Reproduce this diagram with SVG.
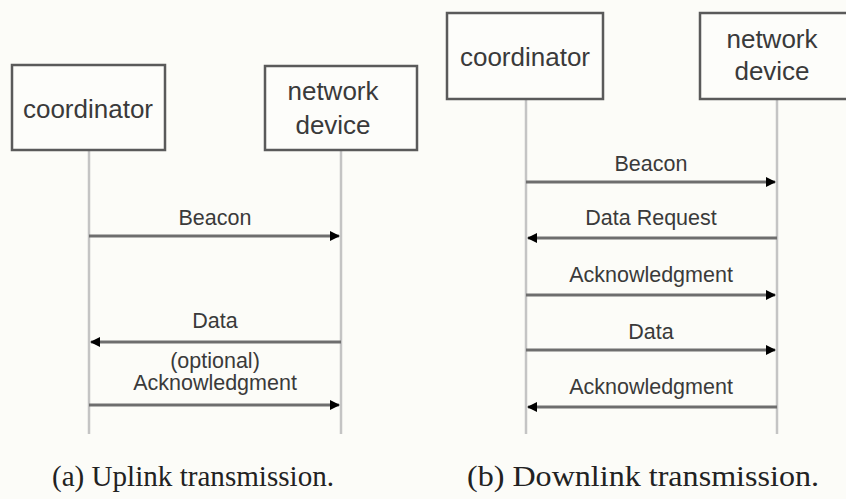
<svg xmlns="http://www.w3.org/2000/svg" width="846" height="499" viewBox="0 0 846 499">
<style>
.box{fill:#fdfdfa;stroke:#5a5a5a;stroke-width:2.5}
.life{stroke:#c4c4c4;stroke-width:2.5;fill:none}
.msg{stroke:#6e6e6e;stroke-width:3;fill:none}
.bt{font-family:"Liberation Sans",Arial,sans-serif;font-size:26px;fill:#3a3a3a;text-anchor:middle}
.mt{font-family:"Liberation Sans",Arial,sans-serif;font-size:21.5px;fill:#3a3a3a;text-anchor:middle}
.cap{font-family:"Liberation Serif","Times New Roman",serif;font-size:29px;fill:#222}
</style>
<defs>
<marker id="ah" markerWidth="10" markerHeight="10" refX="9" refY="5" orient="auto" markerUnits="userSpaceOnUse">
<path d="M0,0 L10,5 L0,10 Z" fill="#000"/>
</marker>
</defs>
<rect width="846" height="499" fill="#fcfcf8"/>
<g id="connectors">
<line class="life" x1="89" y1="150" x2="89" y2="434"/>
<line class="life" x1="341" y1="150" x2="341" y2="434"/>
<line class="life" x1="526" y1="99" x2="526" y2="434"/>
<line class="life" x1="777" y1="99" x2="777" y2="434"/>
<line class="msg" x1="89" y1="236" x2="339" y2="236" marker-end="url(#ah)"/>
<line class="msg" x1="341" y1="342" x2="91" y2="342" marker-end="url(#ah)"/>
<line class="msg" x1="89" y1="405" x2="339" y2="405" marker-end="url(#ah)"/>
<line class="msg" x1="526" y1="182" x2="775" y2="182" marker-end="url(#ah)"/>
<line class="msg" x1="777" y1="238" x2="528" y2="238" marker-end="url(#ah)"/>
<line class="msg" x1="526" y1="295" x2="775" y2="295" marker-end="url(#ah)"/>
<line class="msg" x1="526" y1="350" x2="775" y2="350" marker-end="url(#ah)"/>
<line class="msg" x1="777" y1="407" x2="528" y2="407" marker-end="url(#ah)"/>
</g>
<g id="labels">
<text class="mt" x="215" y="225">Beacon</text>
<text class="mt" x="215" y="328">Data</text>
<text class="mt" x="215" y="368">(optional)</text>
<text class="mt" x="215" y="390">Acknowledgment</text>
<text class="mt" x="651" y="171">Beacon</text>
<text class="mt" x="651" y="225">Data Request</text>
<text class="mt" x="651" y="282">Acknowledgment</text>
<text class="mt" x="651" y="339">Data</text>
<text class="mt" x="651" y="394">Acknowledgment</text>
</g>
<g id="a-coordinator">
<rect class="box" x="12" y="65" width="153" height="85"/>
<text class="bt" x="88" y="118">coordinator</text>
</g>
<g id="a-network-device">
<rect class="box" x="265" y="66" width="152" height="84"/>
<text class="bt" x="333" y="100">network</text>
<text class="bt" x="333" y="134">device</text>
</g>
<g id="b-coordinator">
<rect class="box" x="447" y="13" width="156" height="86"/>
<text class="bt" x="525" y="66">coordinator</text>
</g>
<g id="b-network-device">
<rect class="box" x="700" y="13" width="160" height="86"/>
<text class="bt" x="772" y="48">network</text>
<text class="bt" x="772" y="80">device</text>
</g>
<g id="captions">
<text class="cap" x="52" y="486" textLength="282" lengthAdjust="spacingAndGlyphs">(a) Uplink transmission.</text>
<text class="cap" x="467" y="486" textLength="352" lengthAdjust="spacingAndGlyphs">(b) Downlink transmission.</text>
</g>
</svg>
